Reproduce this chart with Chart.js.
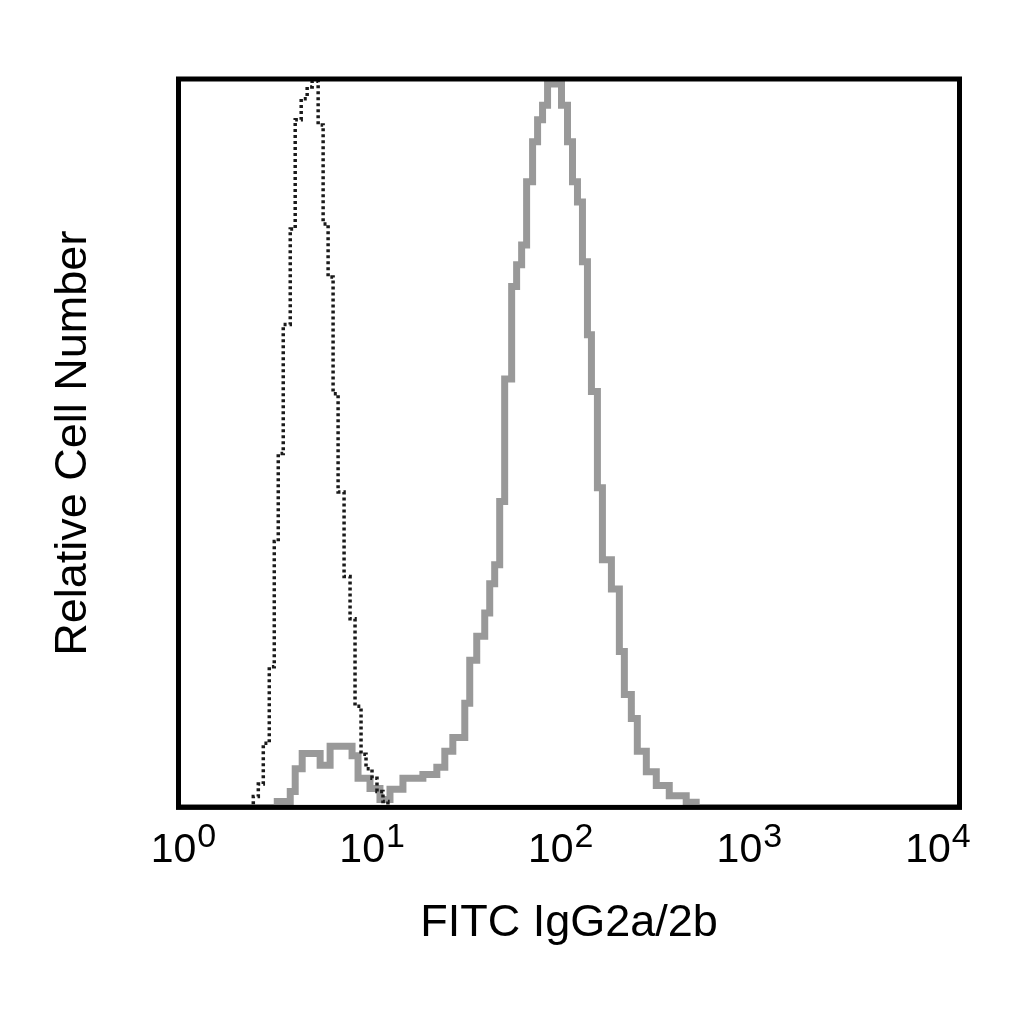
<!DOCTYPE html>
<html>
<head>
<meta charset="utf-8">
<script src="https://cdn.jsdelivr.net/npm/chart.js@4.4.1/dist/chart.umd.min.js"></script>
<style>
  html, body { margin: 0; padding: 0; background: #fff; }
  #wrap { width: 1024px; height: 1024px; position: relative; }
</style>
</head>
<body>
<div id="wrap"><canvas id="chart-hist"></canvas></div>
<script>
const FONT = '"Liberation Sans", Arial, sans-serif';

// --- Decade ticks on the log axis ---
const tickBase = '10';
const tickExponents = [0, 1, 2, 3, 4];

// --- Isotype control (dotted): left bin edge (fluorescence), relative count ---
const isoX = [1, 2.416, 2.563, 2.718, 2.917, 3.094, 3.243, 3.439, 3.735, 3.960, 4.250,
  4.560, 4.836, 5.191, 5.505, 5.838, 6.191, 6.568, 7.047, 7.563, 8.020, 8.608,
  9.129, 9.797, 10.39, 11.15, 11.82, 10000];
const isoY = [0, 1.5, 3.2, 8.8, 19.3, 36.5, 48.6, 66.3, 79.4, 94.4, 97.3,
  98.9, 99.7, 93.7, 80.1, 72.8, 56.8, 43.3, 31.7, 25.9, 13.9, 7.3,
  5.3, 4.0, 2.2, 0.8, 0, 0];

// --- Stained sample (grey): left bin edge (fluorescence), relative count ---
const stainX = [1, 3.205, 3.735, 3.960, 4.300, 5.314, 5.977, 7.743, 8.309, 9.568, 10.76,
  12.11, 14.11, 17.85, 21.04, 23.12, 25.41, 29.26, 31.02, 33.69, 37.02, 39.26,
  41.63, 44.16, 46.83, 50.85, 53.92, 57.20, 60.66, 65.09, 69.04, 73.21, 77.66,
  84.33, 91.55, 98.24, 104.2, 110.5, 117.2, 124.3, 130.3, 139.8, 148.3, 164.9,
  181.1, 192.1, 208.6, 223.8, 248.9, 279.9, 326.2, 398.4, 448.1, 10000];
const stainY = [0, 0.8, 2.2, 5.3, 7.4, 5.8, 8.4, 7.1, 4.0, 2.6, 1.1,
  2.5, 4.0, 4.5, 5.5, 7.7, 9.6, 14.3, 20.2, 23.5, 26.7, 30.7,
  33.3, 42.0, 58.8, 71.5, 74.5, 77.2, 85.9, 91.4, 94.4, 96.4, 99.3,
  99.9, 96.4, 91.4, 85.9, 83.1, 74.9, 64.9, 57.1, 43.9, 34.0, 30.0,
  21.4, 15.5, 12.2, 7.7, 4.9, 3.0, 1.6, 0.7, 0, 0];

function toPoints(xs, ys) {
  return xs.map((x, i) => ({ x, y: ys[i] }));
}

// --- Frame drawn over the histograms ---
const frame = {
  id: 'frame',
  afterDatasetsDraw(chart) {
    const { ctx, chartArea: a } = chart;
    ctx.save();
    ctx.strokeStyle = '#000';
    ctx.lineWidth = 5;
    ctx.strokeRect(a.left, a.top, a.right - a.left, a.bottom - a.top);
    ctx.restore();
  }
};

// --- 10^n labels with raised exponent ---
const decadeLabels = {
  id: 'decadeLabels',
  afterDraw(chart) {
    const { ctx, chartArea: a, scales: { x } } = chart;
    ctx.save();
    ctx.fillStyle = '#000';
    ctx.textBaseline = 'alphabetic';
    ctx.textAlign = 'left';
    tickExponents.forEach((p) => {
      const px = x.getPixelForValue(Math.pow(10, p));
      const cx = a.left + 5 + (px - a.left) * 0.966;
      ctx.font = '41px ' + FONT;
      const wb = ctx.measureText(tickBase).width;
      ctx.font = '34px ' + FONT;
      const we = ctx.measureText(String(p)).width;
      const x0 = cx - (wb + 1 + we) / 2;
      ctx.font = '41px ' + FONT;
      ctx.fillText(tickBase, x0, a.bottom + 54.5);
      ctx.font = '34px ' + FONT;
      ctx.fillText(String(p), x0 + wb + 1, a.bottom + 39.5);
    });
    ctx.restore();
  }
};

const ctx = document.getElementById('chart-hist').getContext('2d');
new Chart(ctx, {
  type: 'line',
  data: {
    datasets: [
      {
        label: 'Isotype control',
        data: toPoints(isoX, isoY),
        borderColor: '#1a1a1a',
        borderWidth: 3.5,
        borderDash: [3, 3],
        stepped: true,
        pointRadius: 0,
        fill: false,
      },
      {
        label: 'FITC IgG2a/2b',
        data: toPoints(stainX, stainY),
        borderColor: '#999',
        borderWidth: 7,
        stepped: true,
        pointRadius: 0,
        fill: false,
      }
    ]
  },
  options: {
    responsive: true,
    maintainAspectRatio: false,
    animation: false,
    layout: { padding: { left: 0, right: 64.5, top: 79, bottom: 73.6 } },
    plugins: { legend: { display: false }, tooltip: { enabled: false } },
    scales: {
      x: {
        type: 'logarithmic',
        min: 1,
        max: 10000,
        grid: { display: false, drawTicks: false },
        border: { display: false },
        ticks: { display: false },
        title: {
          display: true,
          text: 'FITC IgG2a/2b',
          color: '#000',
          font: { family: FONT, size: 45, lineHeight: 1.2 },
          padding: { top: 89, bottom: 0 }
        }
      },
      y: {
        type: 'linear',
        min: 0,
        max: 100,
        grid: { display: false, drawTicks: false },
        border: { display: false },
        ticks: { display: false },
        title: {
          display: true,
          text: 'Relative Cell Number',
          color: '#000',
          font: { family: FONT, size: 45, lineHeight: 1.2 },
          padding: { top: 47, bottom: 77.5 }
        }
      }
    }
  },
  plugins: [frame, decadeLabels]
});
</script>
</body>
</html>
